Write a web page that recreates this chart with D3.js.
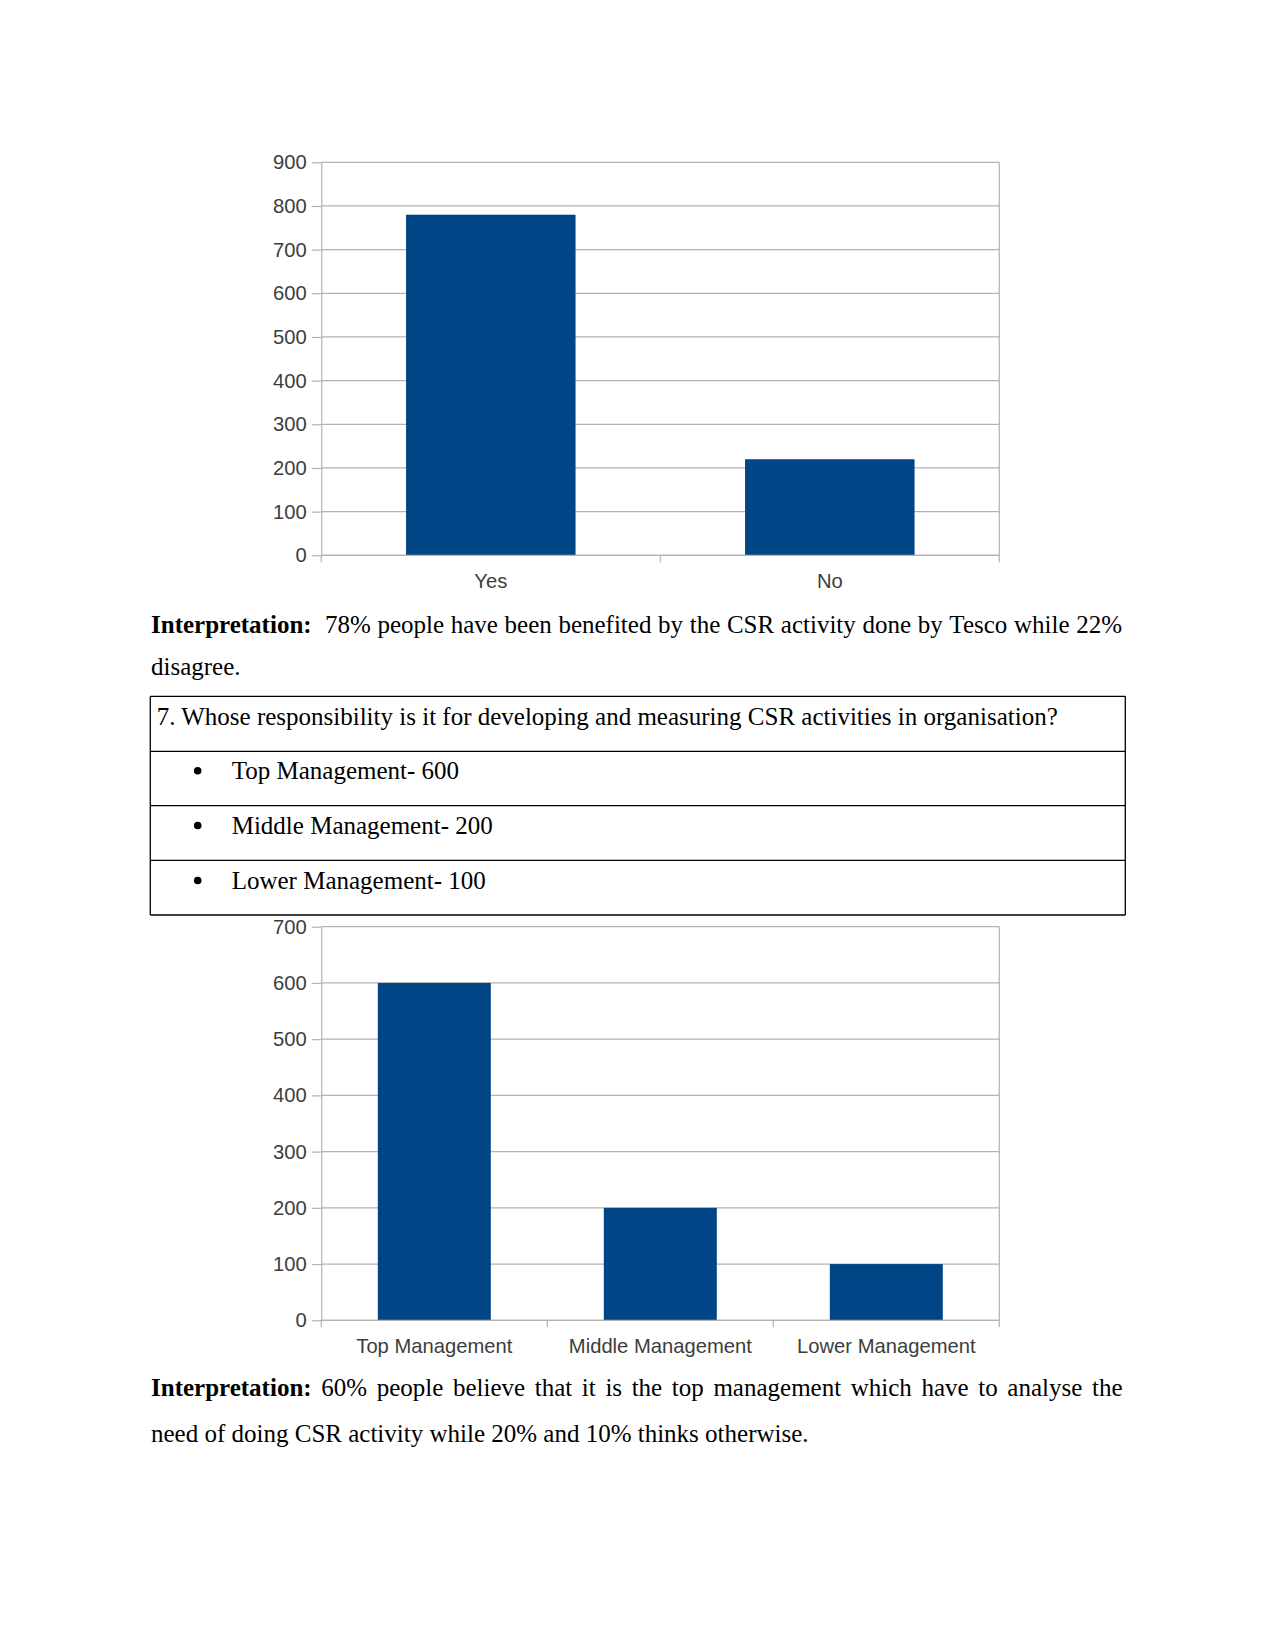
<!DOCTYPE html>
<html>
<head>
<meta charset="utf-8">
<script src="https://cdn.jsdelivr.net/npm/d3@7"></script>
<style>
  html, body { margin: 0; padding: 0; background: #fff; }
  svg { display: block; }
</style>
</head>
<body>
<svg id="page" width="1275" height="1650"></svg>
<script>
// ---------- data ----------
const categories1 = ["Yes", "No"];
const values1 = [780, 220];
const ticks1 = [0, 100, 200, 300, 400, 500, 600, 700, 800, 900];

const categories2 = ["Top Management", "Middle Management", "Lower Management"];
const values2 = [600, 200, 100];
const ticks2 = [0, 100, 200, 300, 400, 500, 600, 700];

const interp1Bold = "Interpretation:";
const interp1Line1 = "78% people have been benefited by the CSR activity done by Tesco while 22%";
const interp1Line2 = "disagree.";

const tableQuestion = "7. Whose responsibility is it for developing and measuring CSR activities in organisation?";
const tableItems = ["Top Management- 600", "Middle Management- 200", "Lower Management- 100"];

const interp2Bold = "Interpretation:";
const interp2Line1 = "60% people believe that it is the top management which have to analyse the";
const interp2Line2 = "need of doing CSR activity while 20% and 10% thinks otherwise.";

// ---------- styles ----------
const BAR = "#004586";
const GRID = "#b3b3b3";
const AXT = "#3d3d3d";
const SERIF = "'Liberation Serif', 'Times New Roman', serif";
const SANS = "'Liberation Sans', Arial, sans-serif";
const BODY_SIZE = 25;
const CHART_SIZE = 20.2;

const svg = d3.select("#page");
svg.append("rect").attr("width", 1275).attr("height", 1650).attr("fill", "#fff");

// ---------- bar chart ----------
function barChart(cats, vals, ticks, left, right, top, bottom) {
  const g = svg.append("g");
  const x = d3.scaleBand().domain(cats).range([left, right]).paddingInner(0.5).paddingOuter(0.25);
  const y = d3.scaleLinear().domain([0, d3.max(ticks)]).range([bottom, top]);

  // gridlines
  g.append("g").selectAll("line").data(ticks).join("line")
    .attr("x1", left).attr("x2", right)
    .attr("y1", d => y(d)).attr("y2", d => y(d))
    .attr("stroke", GRID).attr("stroke-width", 1.2);
  // right border
  g.append("line").attr("x1", right).attr("x2", right).attr("y1", top).attr("y2", bottom)
    .attr("stroke", GRID).attr("stroke-width", 1.2);

  // bars
  g.append("g").selectAll("rect").data(cats).join("rect")
    .attr("x", d => x(d)).attr("width", x.bandwidth())
    .attr("y", (d, i) => y(vals[i])).attr("height", (d, i) => y(0) - y(vals[i]))
    .attr("fill", BAR);

  // y axis
  const ya = g.append("g").attr("transform", `translate(${left},0)`)
    .call(d3.axisLeft(y).tickValues(ticks).tickSize(9.5).tickSizeOuter(0).tickPadding(5));
  ya.select(".domain").attr("stroke", GRID).attr("stroke-width", 1.2);
  ya.selectAll(".tick line").attr("stroke", GRID).attr("stroke-width", 1.2);
  ya.selectAll(".tick text").attr("fill", AXT).attr("font-family", SANS).attr("font-size", CHART_SIZE);

  // x axis (labels at band centres)
  const xa = g.append("g").attr("transform", `translate(0,${bottom})`)
    .call(d3.axisBottom(x).tickSize(0).tickPadding(18));
  xa.select(".domain").remove();
  xa.selectAll(".tick text").attr("fill", AXT).attr("font-family", SANS).attr("font-size", CHART_SIZE);
  // baseline + category boundary ticks
  g.append("line").attr("x1", left).attr("x2", right).attr("y1", bottom).attr("y2", bottom)
    .attr("stroke", GRID).attr("stroke-width", 1.2);
  const bounds = cats.map(c => x(c) - x.paddingInner() * x.step() / 2).concat([right]);
  g.append("g").selectAll("line").data(bounds).join("line")
    .attr("x1", d => d).attr("x2", d => d).attr("y1", bottom).attr("y2", bottom + 7)
    .attr("stroke", GRID).attr("stroke-width", 1.2);
}

// ---------- text helpers ----------
function measure(str, bold) {
  const t = svg.append("text").attr("font-family", SERIF).attr("font-size", BODY_SIZE)
    .attr("font-weight", bold ? "bold" : "normal").attr("xml:space", "preserve").text(str);
  const w = t.node().getComputedTextLength();
  t.remove();
  return w;
}

// justified line: tokens = [{text, bold, spacesBefore}]
function justifiedLine(tokens, x0, x1, baseline) {
  const sw = measure("a a", false) - measure("aa", false);
  const widths = tokens.map(t => measure(t.text, t.bold));
  const totalSpaces = d3.sum(tokens, t => t.spacesBefore);
  const natural = d3.sum(widths) + totalSpaces * sw;
  const extra = totalSpaces ? (x1 - x0 - natural) / totalSpaces : 0;
  let x = x0;
  tokens.forEach((t, i) => {
    x += t.spacesBefore * (sw + extra);
    svg.append("text").attr("x", x).attr("y", baseline)
      .attr("font-family", SERIF).attr("font-size", BODY_SIZE)
      .attr("font-weight", t.bold ? "bold" : "normal").attr("fill", "#000").text(t.text);
    x += widths[i];
  });
}

function plainLine(str, x, baseline, bold) {
  svg.append("text").attr("x", x).attr("y", baseline)
    .attr("font-family", SERIF).attr("font-size", BODY_SIZE)
    .attr("font-weight", bold ? "bold" : "normal").attr("fill", "#000").text(str);
}

function interpTokens(boldWord, rest, gap) {
  const toks = [{ text: boldWord, bold: true, spacesBefore: 0 }];
  rest.split(" ").forEach((w, i) => toks.push({ text: w, bold: false, spacesBefore: i === 0 ? gap : 1 }));
  return toks;
}

// ---------- chart 1 ----------
barChart(categories1, values1, ticks1, 321.3, 999.3, 162.3, 555.3);

// ---------- interpretation 1 ----------
justifiedLine(interpTokens(interp1Bold, interp1Line1, 2), 151, 1122, 632.5);
plainLine(interp1Line2, 151, 675, false);

// ---------- table ----------
const tTop = 696.3, tLeft = 150.3, tRight = 1125.3;
const rowLines = [696.3, 751.3, 805.7, 860.3, 915];
plainLine(tableQuestion, 156.7, 725, false);
tableItems.forEach((s, i) => {
  const base = [779.3, 834, 889][i];
  svg.append("circle").attr("cx", 197.7).attr("cy", base - 8.5).attr("r", 3.8).attr("fill", "#000");
  plainLine(s, 231.7, base, false);
});

// ---------- chart 2 ----------
barChart(categories2, values2, ticks2, 321.3, 999.3, 926.7, 1320.3);

// table borders drawn on top
svg.append("g").selectAll("line").data(rowLines).join("line")
  .attr("x1", tLeft).attr("x2", tRight).attr("y1", d => d).attr("y2", d => d)
  .attr("stroke", "#000").attr("stroke-width", 1.3);
svg.append("g").selectAll("line").data([tLeft, tRight]).join("line")
  .attr("x1", d => d).attr("x2", d => d).attr("y1", tTop).attr("y2", 915)
  .attr("stroke", "#000").attr("stroke-width", 1.3);

// ---------- interpretation 2 ----------
justifiedLine(interpTokens(interp2Bold, interp2Line1, 1), 151, 1122.5, 1396);
plainLine(interp2Line2, 151, 1441.5, false);
</script>
</body>
</html>
